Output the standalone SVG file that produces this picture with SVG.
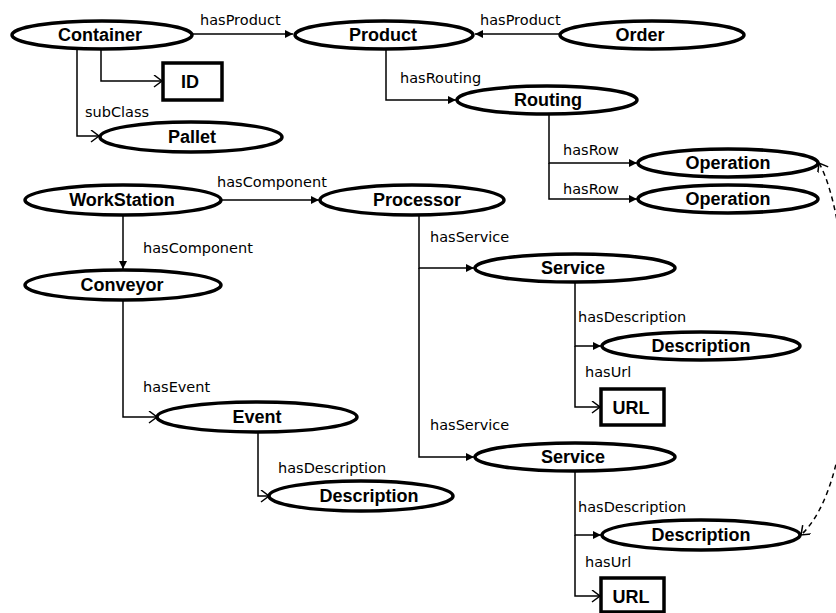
<svg xmlns="http://www.w3.org/2000/svg" width="836" height="613" viewBox="0 0 836 613">
<style>
.n ellipse,.n rect{fill:#fff;stroke:#000;stroke-width:3.5}
.n text{font-family:"Liberation Sans",Arial,sans-serif;font-weight:bold;font-size:18px;text-anchor:middle;fill:#000}
.c path{fill:none;stroke:#000;stroke-width:1.5}
.c .d{stroke-dasharray:5,4}
.l text{font-family:"DejaVu Sans",Verdana,sans-serif;font-size:14.5px;fill:#000}
</style>
<defs>
<marker id="f" markerUnits="userSpaceOnUse" markerWidth="10" markerHeight="10" refX="8" refY="4" orient="auto">
<path d="M0,0 L8,4 L0,8 z" fill="#000"/>
</marker>
<marker id="o" markerUnits="userSpaceOnUse" markerWidth="12" markerHeight="14" refX="9" refY="6" orient="auto-start-reverse">
<path d="M1,0 L9,6 L1,12" fill="none" stroke="#000" stroke-width="1.5"/>
</marker>
</defs>
<rect width="836" height="613" fill="#fff"/>
<g class="c">
<path d="M192,34 H293" marker-end="url(#f)"/>
<path d="M560,34 H475" marker-end="url(#f)"/>
<path d="M101,49 V81 H162" marker-end="url(#o)"/>
<path d="M77,49 V136 H99" marker-end="url(#o)"/>
<path d="M386,49 V100 H456" marker-end="url(#f)"/>
<path d="M549,114 V163 H637" marker-end="url(#f)"/>
<path d="M549,163 V199 H637" marker-end="url(#f)"/>
<path d="M222,200 H319" marker-end="url(#f)"/>
<path d="M123,215 V269" marker-end="url(#f)"/>
<path d="M123,300 V417 H157" marker-end="url(#o)"/>
<path d="M258,432 V496 H269" marker-end="url(#o)"/>
<path d="M419,215 V268 H474" marker-end="url(#f)"/>
<path d="M419,268 V457 H474" marker-end="url(#f)"/>
<path d="M575,282 V346 H601" marker-end="url(#f)"/>
<path d="M575,346 V407 H600" marker-end="url(#o)"/>
<path d="M575,471 V535 H601" marker-end="url(#f)"/>
<path d="M575,535 V596 H600" marker-end="url(#o)"/>
<path class="d" d="M819,163 C852,220 870,470 801,535" marker-start="url(#o)" marker-end="url(#o)"/>
</g>
<g class="l">
<text x="200" y="25">hasProduct</text>
<text x="480" y="25">hasProduct</text>
<text x="85" y="117">subClass</text>
<text x="400" y="83">hasRouting</text>
<text x="563" y="155">hasRow</text>
<text x="563" y="194">hasRow</text>
<text x="217" y="187">hasComponent</text>
<text x="143" y="253">hasComponent</text>
<text x="430" y="242">hasService</text>
<text x="430" y="430">hasService</text>
<text x="143" y="392">hasEvent</text>
<text x="278" y="473">hasDescription</text>
<text x="578" y="322">hasDescription</text>
<text x="585" y="377">hasUrl</text>
<text x="578" y="512">hasDescription</text>
<text x="585" y="567">hasUrl</text>
</g>
<g id="container" class="n"><ellipse cx="102" cy="35" rx="90" ry="14"/><text x="100" y="41">Container</text></g>
<g id="product" class="n"><ellipse cx="384" cy="35" rx="89" ry="14"/><text x="383" y="41">Product</text></g>
<g id="order" class="n"><ellipse cx="652" cy="35" rx="92" ry="14"/><text x="640" y="41">Order</text></g>
<g id="id" class="n"><rect x="163" y="63" width="59" height="37"/><text x="190" y="88">ID</text></g>
<g id="pallet" class="n"><ellipse cx="191" cy="137" rx="91" ry="15"/><text x="192" y="143">Pallet</text></g>
<g id="routing" class="n"><ellipse cx="547" cy="100" rx="90" ry="14"/><text x="548" y="106">Routing</text></g>
<g id="operation1" class="n"><ellipse cx="728" cy="163" rx="90" ry="14"/><text x="728" y="169">Operation</text></g>
<g id="operation2" class="n"><ellipse cx="728" cy="199" rx="90" ry="14"/><text x="728" y="205">Operation</text></g>
<g id="workstation" class="n"><ellipse cx="123" cy="200" rx="98" ry="15"/><text x="122" y="206">WorkStation</text></g>
<g id="processor" class="n"><ellipse cx="412" cy="200" rx="92" ry="15"/><text x="417" y="206">Processor</text></g>
<g id="conveyor" class="n"><ellipse cx="123" cy="285" rx="98" ry="15"/><text x="122" y="291">Conveyor</text></g>
<g id="service1" class="n"><ellipse cx="575" cy="268" rx="100" ry="14"/><text x="573" y="274">Service</text></g>
<g id="description1" class="n"><ellipse cx="701" cy="346" rx="99" ry="14"/><text x="701" y="352">Description</text></g>
<g id="url1" class="n"><rect x="601" y="389" width="63" height="36"/><text x="631" y="414">URL</text></g>
<g id="event" class="n"><ellipse cx="257" cy="417" rx="100" ry="15"/><text x="257" y="423">Event</text></g>
<g id="description-event" class="n"><ellipse cx="361" cy="496" rx="92" ry="15"/><text x="369" y="502">Description</text></g>
<g id="service2" class="n"><ellipse cx="575" cy="457" rx="100" ry="14"/><text x="573" y="463">Service</text></g>
<g id="description2" class="n"><ellipse cx="701" cy="535" rx="99" ry="15"/><text x="701" y="541">Description</text></g>
<g id="url2" class="n"><rect x="601" y="578" width="63" height="34"/><text x="631" y="603">URL</text></g>
</svg>
